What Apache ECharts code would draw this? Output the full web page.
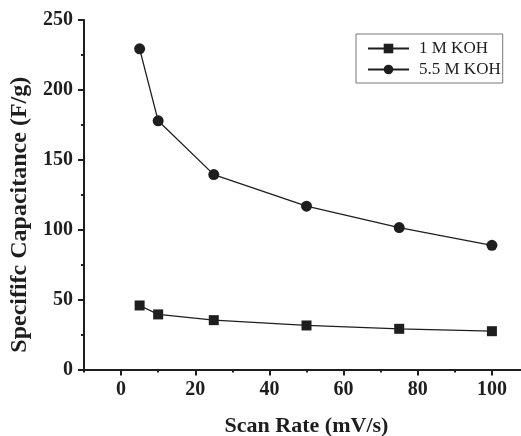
<!DOCTYPE html>
<html>
<head>
<meta charset="utf-8">
<script src="https://cdn.jsdelivr.net/npm/echarts@6/dist/echarts.min.js"></script>
<style>
html,body{margin:0;padding:0;background:#fff;}
#chart{width:521px;height:436px;}
</style>
</head>
<body>
<div id="chart"></div>
<script>
var scanRates = [5, 10, 25, 50, 75, 100];
var koh1M = [45.8, 39.4, 35.3, 31.5, 29.1, 27.4];
var koh55M = [229.4, 177.9, 139.4, 116.8, 101.5, 88.8];
var xTickLabels = [0, 20, 40, 60, 80, 100];
var seriesNames = ['1 M KOH', '5.5 M KOH'];

function pairs(xs, ys) { return xs.map(function (x, i) { return [x, ys[i]]; }); }

var ink = '#1e1e1e';
var font = '"Liberation Serif", "Times New Roman", serif';
var chart = echarts.init(document.getElementById('chart'));
chart.setOption({
  backgroundColor: '#fff',
  animation: false,
  grid: { left: 84, top: 20, right: -8, bottom: 66.5, containLabel: false, outerBoundsMode: 'none' },
  legend: {
    left: 356, top: 34,
    orient: 'vertical',
    data: seriesNames,
    itemWidth: 41, itemHeight: 12, itemGap: 4,
    borderColor: '#777', borderWidth: 1,
    padding: [6, 2, 5, 11],
    textStyle: { fontFamily: font, fontSize: 17, color: ink, lineHeight: 17, padding: [0, 0, 0, 5] }
  },
  xAxis: {
    type: 'value', min: -10, max: 110, interval: 20,
    splitLine: { show: false },
    axisLine: { onZero: false, lineStyle: { color: ink, width: 2 } },
    axisTick: { show: true, length: 3, lineStyle: { color: ink, width: 2 } },
    minorTick: { show: true, splitNumber: 2, length: 6, lineStyle: { color: ink, width: 2 } },
    axisLabel: { customValues: xTickLabels, margin: 10, fontFamily: font, fontSize: 20, fontWeight: 'bold', color: ink },
    name: 'Scan Rate (mV/s)', nameLocation: 'middle', nameGap: 46,
    nameTextStyle: { fontFamily: font, fontSize: 22, fontWeight: 'bold', color: ink }
  },
  yAxis: {
    type: 'value', min: 0, max: 250, interval: 50,
    splitLine: { show: false },
    axisLine: { show: true, onZero: false, lineStyle: { color: ink, width: 2 } },
    axisTick: { show: true, length: 6, lineStyle: { color: ink, width: 2 } },
    minorTick: { show: true, splitNumber: 2, length: 3, lineStyle: { color: ink, width: 2 } },
    axisLabel: { margin: 11, fontFamily: font, fontSize: 20, fontWeight: 'bold', color: ink },
    name: 'Specififc Capacitance (F/g)', nameLocation: 'middle', nameGap: 47,
    nameTextStyle: { fontFamily: font, fontSize: 24, fontWeight: 'bold', color: ink, padding: [0, 40, 0, 0] }
  },
  series: [
    {
      name: seriesNames[0], type: 'line', data: pairs(scanRates, koh1M),
      symbol: 'rect', symbolSize: 10,
      lineStyle: { color: ink, width: 1.3 }, itemStyle: { color: ink }
    },
    {
      name: seriesNames[1], type: 'line', data: pairs(scanRates, koh55M),
      symbol: 'circle', symbolSize: 11,
      lineStyle: { color: ink, width: 1.3 }, itemStyle: { color: ink }
    }
  ]
});
</script>
</body>
</html>
